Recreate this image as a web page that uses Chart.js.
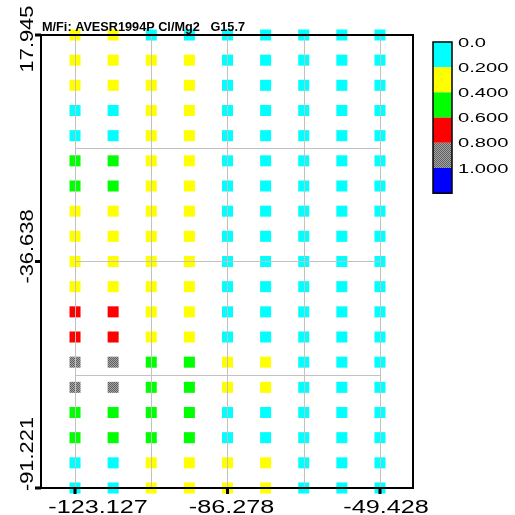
<!DOCTYPE html>
<html>
<head>
<meta charset="utf-8">
<script src="https://cdn.jsdelivr.net/npm/chart.js@4.4.1/dist/chart.umd.min.js"></script>
<style>
  html, body { margin: 0; padding: 0; background: #fff; }
  #wrap { width: 515px; height: 515px; }
</style>
</head>
<body>
<div id="wrap"><canvas id="chart" width="515" height="515"></canvas></div>
<script>
// sample grid: 9 columns x 19 rows
const xCols = [-123.127, -113.915, -104.702, -95.490, -86.278, -77.065, -67.853, -58.640, -49.428];
const yRows = [17.945, 11.880, 5.815, -0.249, -6.314, -12.379, -18.444, -24.509, -30.573, -36.638,
               -42.703, -48.768, -54.833, -60.898, -66.962, -73.027, -79.092, -85.157, -91.221];

const cellValues = [
  [0.3, 0.3, 0.1, 0.1, 0.1, 0.1, 0.1, 0.1, 0.1],
  [0.3, 0.3, 0.3, 0.3, 0.1, 0.1, 0.1, 0.1, 0.1],
  [0.3, 0.3, 0.3, 0.3, 0.1, 0.1, 0.1, 0.1, 0.1],
  [0.1, 0.1, 0.3, 0.3, 0.1, 0.1, 0.1, 0.1, 0.1],
  [0.1, 0.1, 0.3, 0.3, 0.1, 0.1, 0.1, 0.1, 0.1],
  [0.5, 0.5, 0.3, 0.3, 0.1, 0.1, 0.1, 0.1, 0.1],
  [0.5, 0.5, 0.3, 0.3, 0.1, 0.1, 0.1, 0.1, 0.1],
  [0.3, 0.3, 0.3, 0.3, 0.1, 0.1, 0.1, 0.1, 0.1],
  [0.3, 0.3, 0.3, 0.3, 0.1, 0.1, 0.1, 0.1, 0.1],
  [0.3, 0.3, 0.3, 0.3, 0.1, 0.1, 0.1, 0.1, 0.1],
  [0.3, 0.3, 0.3, 0.3, 0.1, 0.1, 0.1, 0.1, 0.1],
  [0.7, 0.7, 0.3, 0.3, 0.1, 0.1, 0.1, 0.1, 0.1],
  [0.7, 0.7, 0.3, 0.3, 0.1, 0.1, 0.1, 0.1, 0.1],
  [0.9, 0.9, 0.5, 0.5, 0.3, 0.3, 0.1, 0.1, 0.1],
  [0.9, 0.9, 0.5, 0.5, 0.3, 0.3, 0.1, 0.1, 0.1],
  [0.5, 0.5, 0.5, 0.5, 0.1, 0.1, 0.1, 0.1, 0.1],
  [0.5, 0.5, 0.5, 0.5, 0.1, 0.1, 0.1, 0.1, 0.1],
  [0.1, 0.1, 0.3, 0.3, 0.3, 0.3, 0.1, 0.1, 0.1],
  [0.1, 0.1, 0.3, 0.3, 0.3, 0.3, 0.1, 0.1, 0.1]
];

const binStep = 0.2;
const binLabels = ["0.0", "0.200", "0.400", "0.600", "0.800", "1.000"];
const xTickValues = [-123.127, -86.278, -49.428];
const yTickValues = [17.945, -36.638, -91.221];
const xGridValues = [-123.127, -104.702, -86.278, -67.853, -49.428];
const yGridValues = [-9.346, -36.638, -63.930];
const titleText = "M/Fi: AVESR1994P Cl/Mg2   G15.7";

const canvas = document.getElementById("chart");
const ctx = canvas.getContext("2d");

// checkered grey used for the 0.8 - 1.0 class
function greyPattern() {
  const c = document.createElement("canvas");
  c.width = 2; c.height = 2;
  const g = c.getContext("2d");
  g.fillStyle = "#a4a4a4"; g.fillRect(0, 0, 2, 2);
  g.fillStyle = "#606060"; g.fillRect(0, 0, 1, 1); g.fillRect(1, 1, 1, 1);
  return ctx.createPattern(c, "repeat");
}
const binColors = ["#00ffff", "#ffff00", "#00ff00", "#ff0000", greyPattern(), "#0000ff"];

const points = [];
const pointColors = [];
yRows.forEach((yv, r) => {
  xCols.forEach((xv, c) => {
    const v = cellValues[r][c];
    points.push({ x: xv, y: yv, v: v });
    pointColors.push(binColors[Math.min(Math.floor(v / binStep), binColors.length - 1)]);
  });
});

function stretchText(text, x, y, sx, align, angle) {
  ctx.save();
  ctx.translate(x, y);
  if (angle) ctx.rotate(angle);
  ctx.scale(sx, 1);
  ctx.textAlign = align;
  ctx.fillText(text, 0, 0);
  ctx.restore();
}

const decorations = {
  id: "decorations",
  afterDatasetsDraw(chart) {
    const a = chart.chartArea;
    const xs = chart.scales.x, ys = chart.scales.y;
    ctx.save();

    // grid lines, drawn over the squares
    ctx.strokeStyle = "#c2c2c2";
    ctx.lineWidth = 1;
    ctx.beginPath();
    xGridValues.forEach(v => {
      const px = Math.round(xs.getPixelForValue(v)) + 0.5;
      ctx.moveTo(px, a.top); ctx.lineTo(px, a.bottom);
    });
    const gx0 = xs.getPixelForValue(xCols[0]);
    const gx1 = xs.getPixelForValue(xCols[xCols.length - 1]);
    yGridValues.forEach(v => {
      const py = Math.round(ys.getPixelForValue(v)) + 0.5;
      ctx.moveTo(gx0, py); ctx.lineTo(gx1, py);
    });
    ctx.stroke();

    // frame
    ctx.strokeStyle = "#000";
    ctx.lineWidth = 2;
    ctx.strokeRect(a.left, a.top, a.right - a.left, a.bottom - a.top);

    // tick stubs
    ctx.fillStyle = "#000";
    xTickValues.forEach(v => {
      const px = xs.getPixelForValue(v);
      ctx.fillRect(px - 1.5, a.bottom, 3, 6);
    });
    yTickValues.forEach(v => {
      const py = ys.getPixelForValue(v);
      ctx.fillRect(a.left - 6, py - 1.5, 6, 3);
    });

    // tick labels
    ctx.font = "18px 'Liberation Sans', Arial, sans-serif";
    ctx.textBaseline = "alphabetic";
    const xShift = [23, 4, 6];
    xTickValues.forEach((v, i) => {
      stretchText(v.toFixed(3), xs.getPixelForValue(v) + xShift[i], 513, 1.4, "center");
    });
    ctx.font = "19px 'Liberation Sans', Arial, sans-serif";
    const yShift = [4, -15, -34];
    yTickValues.forEach((v, i) => {
      stretchText(v.toFixed(3), 33, ys.getPixelForValue(v) + yShift[i], 1.15, "center", -Math.PI / 2);
    });

    // title
    ctx.font = "bold 12px 'Liberation Sans', Arial, sans-serif";
    const tw = ctx.measureText(titleText).width;
    stretchText(titleText, 42, 31, 203 / tw, "left");

    // colour bar legend
    const lx = 433, ly = 42, lw = 19, lh = 25.2;
    binColors.forEach((col, i) => {
      ctx.fillStyle = col;
      ctx.fillRect(lx, ly + i * lh, lw, lh);
    });
    ctx.strokeStyle = "#000";
    ctx.lineWidth = 1.5;
    ctx.strokeRect(lx, ly, lw, lh * binColors.length);
    ctx.fillStyle = "#000";
    ctx.font = "13px 'Liberation Sans', Arial, sans-serif";
    ctx.textBaseline = "middle";
    binLabels.forEach((t, i) => {
      stretchText(t, 458, ly + i * lh + 1, 1.55, "left");
    });

    ctx.restore();
  }
};

new Chart(ctx, {
  type: "scatter",
  data: {
    datasets: [{
      data: points,
      pointStyle: "rect",
      pointRadius: 7.8,
      pointHoverRadius: 7.8,
      pointBorderWidth: 0,
      pointBackgroundColor: pointColors,
      clip: false
    }]
  },
  options: {
    responsive: false,
    animation: false,
    events: [],
    layout: { padding: { left: 41, top: 35, right: 102, bottom: 27 } },
    scales: {
      x: { type: "linear", min: xCols[0] - 8.22, max: xCols[xCols.length - 1] + 7.98, display: false },
      y: { type: "linear", min: yRows[yRows.length - 1], max: yRows[0], display: false }
    },
    plugins: {
      legend: { display: false },
      tooltip: { enabled: false }
    }
  },
  plugins: [decorations]
});
</script>
</body>
</html>
